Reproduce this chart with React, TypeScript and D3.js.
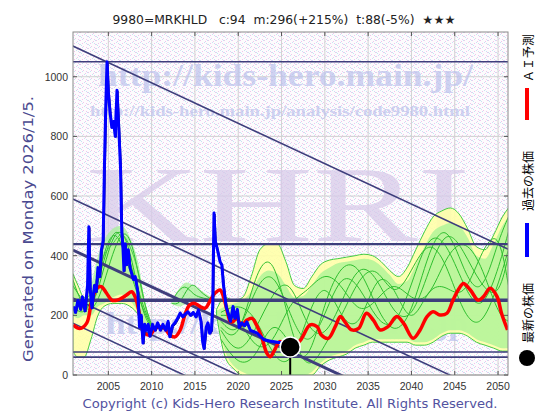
import React from "react";
import * as d3 from "d3";

const W = 560;
const H = 420;
const PL = 73, PR = 508, PT = 32, PB = 375;

const titleText = "9980=MRKHLD   c:94  m:296(+215%)  t:88(-5%)  ★★★";
const genText = "Generated on Monday 2026/1/5.";
const copyText = "Copyright (c) Kids-Hero Research Institute. All Rights Reserved.";
const legendLabels = ["ＡＩ予測", "過去の株価", "最新の株価"];
const xTicks = [2005, 2010, 2015, 2020, 2025, 2030, 2035, 2040, 2045, 2050];
const yTicks = [0, 200, 400, 600, 800, 1000];

// historical price (blue)
const blueYears = [2000.95, 2001.2, 2001.5, 2001.8, 2002.0, 2002.3, 2002.6, 2002.75, 2002.9, 2003.1, 2003.4, 2003.6, 2003.8, 2004.0, 2004.2, 2004.4, 2004.55, 2004.7, 2004.85, 2005.0, 2005.2, 2005.4, 2005.6, 2005.8, 2006.0, 2006.2, 2006.4, 2006.55, 2006.7, 2006.8, 2006.95, 2007.1, 2007.3, 2007.5, 2007.7, 2007.9, 2008.1, 2008.4, 2008.6, 2008.8, 2009.0, 2009.2, 2009.4, 2009.6, 2009.8, 2010.1, 2010.4, 2010.7, 2011.0, 2011.3, 2011.6, 2011.9, 2012.1, 2012.4, 2012.7, 2013.0, 2013.3, 2013.6, 2013.9, 2014.2, 2014.5, 2014.8, 2015.1, 2015.4, 2015.7, 2015.9, 2016.05, 2016.3, 2016.5, 2016.7, 2016.9, 2017.05, 2017.2, 2017.35, 2017.6, 2017.9, 2018.1, 2018.3, 2018.6, 2018.9, 2019.1, 2019.4, 2019.6, 2019.9, 2020.1, 2020.4, 2020.7, 2021.0, 2021.4, 2021.8, 2022.2, 2022.6, 2023.0, 2023.5, 2024.0, 2024.5, 2025.0, 2025.5];
const blueValues = [230, 210, 250, 220, 262, 215, 300, 497, 290, 225, 300, 280, 360, 330, 420, 450, 700, 900, 1050, 950, 880, 830, 850, 800, 955, 830, 700, 480, 420, 350, 440, 370, 420, 360, 340, 320, 330, 280, 160, 200, 107, 170, 150, 170, 130, 170, 150, 175, 150, 170, 150, 180, 128, 165, 175, 190, 208, 195, 205, 212, 200, 210, 195, 218, 180, 110, 89, 160, 175, 140, 150, 230, 543, 450, 420, 380, 370, 300, 230, 200, 180, 230, 190, 220, 160, 175, 165, 178, 150, 145, 140, 128, 118, 115, 112, 110, 108, 104];

// AI prediction (red)
const redYears = [2000.95, 2001.7, 2002.5, 2003.1, 2003.7, 2004.2, 2004.8, 2005.4, 2006.0, 2006.5, 2007.1, 2007.7, 2008.1, 2008.5, 2008.9, 2009.2, 2009.8, 2010.4, 2011.0, 2011.5, 2012.1, 2012.7, 2013.3, 2013.9, 2014.4, 2015.0, 2015.6, 2016.2, 2016.7, 2017.3, 2017.9, 2018.3, 2018.7, 2019.1, 2019.4, 2019.8, 2020.4, 2021.0, 2021.6, 2022.1, 2022.7, 2023.3, 2023.7, 2024.2, 2024.8, 2025.5, 2026.3, 2027.2, 2028.3, 2029.1, 2029.6, 2030.4, 2031.2, 2031.8, 2032.3, 2033.1, 2033.9, 2034.8, 2035.6, 2036.4, 2037.3, 2038.3, 2039.1, 2040.2, 2041.0, 2041.8, 2042.5, 2043.3, 2044.1, 2044.8, 2045.5, 2046.0, 2046.8, 2047.7, 2048.3, 2049.1, 2049.9, 2050.4, 2051.1];
const redValues = [168, 156, 174, 251, 291, 296, 274, 251, 251, 257, 268, 279, 262, 218, 156, 140, 134, 156, 162, 156, 134, 128, 151, 207, 235, 240, 229, 224, 246, 274, 285, 262, 218, 179, 179, 190, 168, 184, 190, 168, 128, 73, 61, 84, 112, 100, 95, 117, 168, 162, 134, 123, 162, 196, 179, 151, 156, 207, 184, 151, 162, 196, 173, 123, 151, 196, 212, 201, 207, 251, 290, 307, 285, 251, 262, 291, 262, 207, 151];

// latest price
const latestYear = 2026.0;
const latestValue = 94;

// horizontal levels and trend channel lines (value at 2001 / 2051)
const hLevels = [1050, 439, 251, 77, 60];
const trendYears = [2000.9, 2051.2];
const trendStart = [1103, 590, 419, 258, 174];
const trendEnd = [421, -92, -263, -424, -508];

// envelopes: early period
const earlyYears = [2000.9, 2001.5, 2002.2, 2003.0, 2003.8, 2004.5, 2005.5, 2006.5, 2007.5, 2008.5, 2009.3, 2010.0];
const earlyYellowLo = [80, 60, 60, 120, 200, 230, 240, 240, 230, 200, 150, 150];
const earlyYellowHi = [340, 300, 260, 270, 340, 400, 440, 470, 430, 340, 230, 160];
const earlyGreenLo = [200, 190, 200, 200, 230, 240, 260, 270, 250, 210, 170, 155];
const earlyGreenHi = [330, 270, 240, 300, 400, 450, 490, 500, 460, 370, 230, 160];
const earlyLineYears = [2000.9, 2002, 2003, 2004, 2005, 2006, 2007, 2008, 2009, 2010];
const earlyLine1 = [300, 250, 220, 300, 420, 490, 470, 350, 200, 160];
const earlyLine2 = [230, 200, 240, 350, 460, 480, 400, 300, 220, 160];
const earlyLine3 = [320, 230, 210, 260, 360, 450, 490, 420, 250, 170];
const earlyLine4 = [260, 220, 230, 330, 440, 500, 430, 330, 230, 165];

// envelopes: middle period
const midYears = [2012.3, 2013.2, 2014.0, 2014.8, 2015.6, 2016.4, 2017.2];
const midGreenLo = [240, 230, 240, 250, 250, 250, 250];
const midGreenHi = [245, 290, 310, 300, 285, 270, 252];
const midLine1 = [245, 290, 300, 270, 260, 255, 250];
const midLine2 = [240, 235, 285, 310, 280, 262, 250];

// envelopes: future period
const lateYears = [2017.5, 2018.5, 2019.5, 2020.5, 2021.5, 2022.5, 2023.5, 2024.5, 2025.5, 2026.5, 2027.5, 2028.5, 2029.5, 2030.5, 2031.5, 2032.5, 2033.5, 2034.5, 2035.5, 2036.5, 2037.5, 2038.5, 2039.5, 2040.5, 2041.5, 2042.5, 2043.5, 2044.5, 2045.5, 2046.5, 2047.5, 2048.5, 2049.5, 2050.5, 2051.2];
const lateYellowLo = [200, 60, 20, 0, 0, 0, 0, 0, 0, 0, 0, 0, 30, 50, 60, 70, 90, 100, 110, 110, 110, 110, 110, 100, 100, 110, 130, 140, 140, 130, 110, 100, 90, 80, 80];
const lateYellowHi = [220, 260, 250, 260, 330, 420, 440, 440, 380, 300, 290, 330, 370, 385, 390, 395, 400, 405, 400, 380, 350, 330, 360, 420, 480, 530, 550, 560, 540, 490, 430, 420, 470, 530, 560];
const lateGreenLo = [205, 80, 30, 10, 0, 0, 0, 0, 0, 0, 0, 10, 40, 60, 70, 80, 100, 110, 120, 120, 120, 120, 120, 110, 110, 120, 140, 150, 150, 140, 120, 110, 100, 90, 90];
const lateGreenHi = [215, 230, 240, 250, 280, 330, 350, 340, 300, 260, 265, 300, 340, 360, 375, 380, 385, 390, 385, 365, 335, 305, 315, 370, 430, 480, 500, 510, 500, 460, 400, 390, 440, 500, 530];
const lateLineYears = [2018, 2020, 2022, 2024, 2026, 2028, 2030, 2032, 2034, 2036, 2038, 2040, 2042, 2044, 2046, 2048, 2050, 2051.2];
const lateLine1 = [180, 120, 300, 360, 200, 80, 200, 350, 300, 180, 150, 300, 480, 450, 300, 200, 350, 480];
const lateLine2 = [150, 60, 150, 280, 330, 150, 120, 250, 380, 330, 200, 180, 350, 500, 420, 300, 250, 400];
const lateLine3 = [200, 200, 80, 100, 250, 280, 350, 300, 200, 250, 320, 250, 250, 400, 460, 380, 200, 180];
const lateLine4 = [120, 30, 50, 200, 100, 20, 250, 380, 370, 220, 130, 200, 420, 520, 350, 250, 450, 530];
const lateLine5 = [210, 240, 200, 60, 20, 200, 330, 180, 150, 350, 300, 150, 300, 300, 250, 410, 500, 300];
const lateLine6 = [160, 100, 350, 420, 150, 0, 100, 200, 330, 370, 250, 350, 460, 380, 200, 150, 300, 420];

const NAVY = "#3e3e7c";

// stipple dot positions in an 8x8 background tile (style only)
const stipPink = [[0, 0], [5, 1], [2, 3], [7, 4], [3, 6], [6, 7]];
const stipBlue = [[4, 2], [1, 5], [6, 3], [2, 7], [7, 0], [0, 4]];

export default function App() {
  const x = d3.scaleLinear().domain([2000.92, 2051.15]).range([PL, PR]);
  const y = d3.scaleLinear().domain([0, 1150]).range([PB, PT]);

  const lineGen = (years: number[], vals: number[], curve: any) =>
    d3
      .line<number>()
      .x((_, i) => x(years[i]))
      .y((d) => y(d))
      .curve(curve)(vals) || "";

  const areaGen = (years: number[], lo: number[], hi: number[]) =>
    d3
      .area<number>()
      .x((_, i) => x(years[i]))
      .y0((_, i) => y(lo[i]))
      .y1((_, i) => y(hi[i]))
      .curve(d3.curveMonotoneX)(lo) || "";

  const greenLines: [number[], number[]][] = [
    [earlyLineYears, earlyLine1],
    [earlyLineYears, earlyLine2],
    [earlyLineYears, earlyLine3],
    [earlyLineYears, earlyLine4],
    [midYears, midLine1],
    [midYears, midLine2],
    [lateLineYears, lateLine1],
    [lateLineYears, lateLine2],
    [lateLineYears, lateLine3],
    [lateLineYears, lateLine4],
    [lateLineYears, lateLine5],
    [lateLineYears, lateLine6],
  ];

  const hWidths = [1.5, 2.2, 3.5, 1.6, 1.6];
  const tWidths = [1.6, 1.6, 3, 1.6, 1.6];

  const cx = x(latestYear);
  const cy = y(latestValue);

  return (
    <svg width={W} height={H} style={{ display: "block", position: "absolute", left: 0, top: 0 }}>
      <defs>
        <pattern id="stip" width="8" height="8" patternUnits="userSpaceOnUse">
          <rect width="8" height="8" fill="#fdfbfd" />
          {stipPink.map(([px, py], i) => (
            <rect key={"sp" + i} x={px} y={py} width="1" height="1" fill="#efc6ec" />
          ))}
          {stipBlue.map(([px, py], i) => (
            <rect key={"sb" + i} x={px} y={py} width="1" height="1" fill="#c8e4f2" />
          ))}
        </pattern>
        <clipPath id="plot">
          <rect x={PL} y={PT} width={PR - PL} height={PB - PT} />
        </clipPath>
      </defs>
      <rect width={W} height={H} fill="#ffffff" />
      <rect x={PL} y={PT} width={PR - PL} height={PB - PT} fill="url(#stip)" />

      {/* grid */}
      {xTicks.map((t) => (
        <line key={"gx" + t} x1={x(t)} x2={x(t)} y1={PT} y2={PB} stroke="#d2d2d2" strokeWidth={1} />
      ))}
      {yTicks.map((t) => (
        <line key={"gy" + t} x1={PL} x2={PR} y1={y(t)} y2={y(t)} stroke="#d2d2d2" strokeWidth={1} />
      ))}

      {/* watermarks */}
      <g clipPath="url(#plot)" fontFamily="'Liberation Serif', 'DejaVu Serif', serif" fontWeight="bold">
        <text x={98} y={86} fontSize={31} fill="#bcc2ec" opacity={0.7} textLength={375} lengthAdjust="spacingAndGlyphs">
          http://kids-hero.main.jp/
        </text>
        <text x={90} y={116} fontSize={15} fill="#bcc2ec" opacity={0.7} textLength={380} lengthAdjust="spacingAndGlyphs">
          http://kids-hero.main.jp/analysis/code9980.html
        </text>
        <text x={86} y={241} fontSize={108} fontWeight="normal" fill="#d8cbea" opacity={0.75} textLength={384} lengthAdjust="spacingAndGlyphs">
          KHRI
        </text>
        <text x={106} y={334} fontSize={31} fill="#bcc2ec" opacity={0.7} textLength={362} lengthAdjust="spacingAndGlyphs">
          http://kids-hero.main.jp
        </text>
      </g>

      <g clipPath="url(#plot)">
        {/* envelopes */}
        <path d={areaGen(earlyYears, earlyYellowLo, earlyYellowHi)} fill="#ffffa8" opacity={0.9} />
        <path d={areaGen(lateYears, lateYellowLo, lateYellowHi)} fill="#ffffa8" opacity={0.9} />
        <path d={areaGen(earlyYears, earlyGreenLo, earlyGreenHi)} fill="#a4f294" opacity={0.72} />
        <path d={areaGen(midYears, midGreenLo, midGreenHi)} fill="#a4f294" opacity={0.72} />
        <path d={areaGen(lateYears, lateGreenLo, lateGreenHi)} fill="#a4f294" opacity={0.72} />
        {greenLines.map(([yrs, vals], i) => (
          <path key={"gl" + i} d={lineGen(yrs, vals, d3.curveBasis)} fill="none" stroke="#2fbf2f" strokeWidth={1} />
        ))}
        <path d={areaGen(earlyYears, earlyYellowLo, earlyYellowHi)} fill="none" stroke="#44cc44" strokeWidth={1} />
        <path d={areaGen(lateYears, lateYellowLo, lateYellowHi)} fill="none" stroke="#44cc44" strokeWidth={1} />

        {/* horizontal levels */}
        {hLevels.map((v, i) => (
          <line key={"h" + i} x1={PL} x2={PR} y1={y(v)} y2={y(v)} stroke={NAVY} strokeWidth={hWidths[i]} />
        ))}
        {/* trend channel */}
        {trendStart.map((v, i) => (
          <line
            key={"t" + i}
            x1={x(trendYears[0])}
            y1={y(v)}
            x2={x(trendYears[1])}
            y2={y(trendEnd[i])}
            stroke={NAVY}
            strokeWidth={tWidths[i]}
          />
        ))}

        {/* prediction and price */}
        <path d={lineGen(redYears, redValues, d3.curveCatmullRom)} fill="none" stroke="#ff0000" strokeWidth={3.5} strokeLinejoin="round" />
        <path d={lineGen(blueYears, blueValues, d3.curveLinear)} fill="none" stroke="#1a1a60" strokeWidth={1} transform="translate(1,1)" />
        <path d={lineGen(blueYears, blueValues, d3.curveLinear)} fill="none" stroke="#0000ff" strokeWidth={3} strokeLinejoin="round" />

        {/* latest */}
        <line x1={cx} x2={cx} y1={cy} y2={PB} stroke="#000" strokeWidth={2} />
        <circle cx={cx} cy={cy} r={10} fill="#000" stroke="#fff" strokeWidth={1.5} />
      </g>

      {/* frame and ticks */}
      <rect x={PL} y={PT} width={PR - PL} height={PB - PT} fill="none" stroke="#8a8a8a" strokeWidth={1} />
      {xTicks.map((t) => (
        <g key={"xt" + t}>
          <line x1={x(t)} x2={x(t)} y1={PB} y2={PB - 4} stroke="#555" />
          <line x1={x(t)} x2={x(t)} y1={PT} y2={PT + 4} stroke="#555" />
          <text x={x(t)} y={390} fontSize={10.5} textAnchor="middle" fontFamily="'Liberation Sans', Arial, sans-serif" fill="#333">
            {t}
          </text>
        </g>
      ))}
      {yTicks.map((t) => (
        <g key={"yt" + t}>
          <line x1={PL} x2={PL + 4} y1={y(t)} y2={y(t)} stroke="#555" />
          <line x1={PR} x2={PR - 4} y1={y(t)} y2={y(t)} stroke="#555" />
          <text x={68} y={y(t) + 4} fontSize={10.5} textAnchor="end" fontFamily="'Liberation Sans', Arial, sans-serif" fill="#333">
            {t}
          </text>
        </g>
      ))}

      {/* title */}
      <text x={284} y={24} fontSize={12} textAnchor="middle" fontFamily="'DejaVu Sans', sans-serif" fill="#222" textLength={343} lengthAdjust="spacingAndGlyphs" style={{ whiteSpace: "pre" }}>
        {titleText}
      </text>

      {/* generated */}
      <text x={33} y={229} fontSize={14} textAnchor="middle" fontFamily="'DejaVu Sans', sans-serif" fill="#4a4a90" transform="rotate(-90,33,229)" textLength={266} lengthAdjust="spacingAndGlyphs">
        {genText}
      </text>

      {/* copyright */}
      <text x={290} y={408} fontSize={13} textAnchor="middle" fontFamily="'DejaVu Sans', sans-serif" fill="#5252a0" textLength={415} lengthAdjust="spacingAndGlyphs">
        {copyText}
      </text>

      {/* legend */}
      <g fontFamily="'Noto Sans CJK JP', sans-serif" fontSize={12} fill="#000">
        <text x={527} y={58} textAnchor="middle" dominantBaseline="central" transform="rotate(-90,527,58)">
          {legendLabels[0]}
        </text>
        <rect x={525} y={88} width={4} height={32} fill="#ff0000" />
        <text x={527} y={181} textAnchor="middle" dominantBaseline="central" transform="rotate(-90,527,181)">
          {legendLabels[1]}
        </text>
        <rect x={525} y={223} width={4} height={34} fill="#0000ff" />
        <text x={527} y={313} textAnchor="middle" dominantBaseline="central" transform="rotate(-90,527,313)">
          {legendLabels[2]}
        </text>
        <circle cx={527} cy={358} r={8} fill="#000" />
      </g>
    </svg>
  );
}
